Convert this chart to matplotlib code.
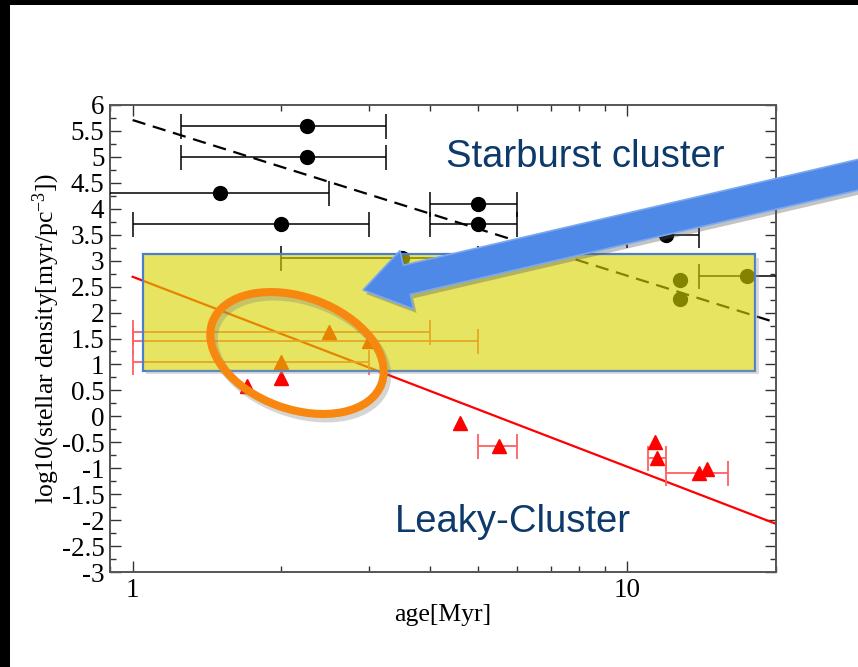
import numpy as np
import matplotlib
matplotlib.use("Agg")
from matplotlib import pyplot as plt
from matplotlib.patches import Rectangle, Polygon, Ellipse
from matplotlib.ticker import MultipleLocator, FuncFormatter, LogLocator
from matplotlib.transforms import IdentityTransform

nan = np.nan

# starburst clusters (black circles), nan = no error bar
sb_age = [2.25, 2.25, 1.5, 2.0, 5.0, 5.0, 12.0, 3.5, 12.8, 12.8, 17.5]
sb_dens = [5.6, 5.0, 4.3, 3.7, 4.1, 3.7, 3.5, 3.06, 2.62, 2.27, 2.7]
sb_lo = [1.25, 1.25, 0.5, 1.0, 4.0, 4.0, 10.0, 2.0, nan, nan, 14.0]
sb_hi = [3.25, 3.25, 2.5, 3.0, 6.0, 6.0, 14.0, 5.0, nan, nan, 21.0]

# leaky clusters (red triangles)
lk_age = [2.0, 2.5, 3.0, 1.7, 2.0, 4.6, 5.5, 11.4, 11.5, 14.0, 14.5]
lk_dens = [1.05, 1.62, 1.46, 0.58, 0.74, -0.12, -0.57, -0.5, -0.8, -1.1, -1.02]
lk_lo = [1.0, 1.0, 1.0, nan, nan, nan, 5.0, nan, 11.0, 12.0, nan]
lk_hi = [3.0, 4.0, 5.0, nan, nan, nan, 6.0, nan, 12.0, 16.0, nan]

# fits: log10(rho) = a + b*log10(age)
sb_fit = (5.71, -3.0)
lk_fit = (2.69, -3.66)

W, H = 858, 667
plt.rcParams['font.family'] = ['Liberation Serif', 'DejaVu Serif']
plt.rcParams['mathtext.fontset'] = 'custom'
plt.rcParams['mathtext.rm'] = 'Liberation Serif'
plt.rcParams['mathtext.it'] = 'Liberation Serif:italic'
fig = plt.figure(figsize=(W / 100, H / 100), dpi=100)
ax = fig.add_axes([110 / W, 95 / H, 666 / W, 467 / H])


def bars(ax, x, y, lo, hi, **kw):
    x, y, lo, hi = map(np.array, (x, y, lo, hi))
    m = np.isfinite(lo)
    ax.errorbar(x[m], y[m], xerr=[x[m] - lo[m], hi[m] - x[m]], fmt='none',
                capsize=9, zorder=3, **kw)


bars(ax, sb_age, sb_dens, sb_lo, sb_hi, ecolor='black', elinewidth=1.1, capthick=1.1)
ax.plot(sb_age, sb_dens, 'o', color='black', ms=10, zorder=4)
bars(ax, lk_age, lk_dens, lk_lo, lk_hi, ecolor='#ff6060', elinewidth=1.3, capthick=1.3)
ax.plot(lk_age, lk_dens, '^', color='red', ms=10, zorder=4)

xf = np.array([1.0, 20.0])
ax.plot(xf, sb_fit[0] + sb_fit[1] * np.log10(xf), '--', color='black', lw=1.6,
        dashes=(6, 3.5), zorder=2)
ax.plot(xf, lk_fit[0] + lk_fit[1] * np.log10(xf), '-', color='red', lw=1.6, zorder=2)

ax.set_xscale('log')
ax.set_xlim(0.9, 20)
ax.set_ylim(-3, 6)
ax.xaxis.set_major_locator(LogLocator(base=10))
ax.xaxis.set_minor_locator(LogLocator(base=10, subs=np.arange(2, 10)))
ax.xaxis.set_minor_formatter(FuncFormatter(lambda v, p: ''))
ax.xaxis.set_major_formatter(FuncFormatter(lambda v, p: '%g' % v))
ax.yaxis.set_major_locator(MultipleLocator(0.5))
ax.yaxis.set_minor_locator(MultipleLocator(0.25))
ax.yaxis.set_major_formatter(FuncFormatter(lambda v, p: '%g' % v))
ax.tick_params(which='both', direction='in', top=True, right=True, labelsize=19.5,
               color='#333333', width=1.0, pad=4)
ax.tick_params(which='major', length=8)
ax.tick_params(which='minor', length=4)
for s in ax.spines.values():
    s.set_color('#555555')
    s.set_linewidth(1.4)
ax.set_xlabel('age[Myr]', fontsize=18.5, labelpad=1)
ax.set_ylabel(r'log10(stellar density[myr/pc$^{-3}$])', fontsize=18.5, labelpad=0)

# highlighted band (semi-transparent slide shape) with its drop shadow
def px_rect(x0, y0, x1, y1, **kw):
    fig.add_artist(Rectangle((x0 / W, 1 - y1 / H), (x1 - x0) / W, (y1 - y0) / H,
                             transform=fig.transFigure, **kw))


px_rect(146, 370, 759, 374, facecolor='#999999', alpha=0.35, edgecolor='none', zorder=5)
px_rect(755, 258, 759, 370, facecolor='#999999', alpha=0.35, edgecolor='none', zorder=5)
ax.add_patch(Rectangle((1.05, 0.88), 18.15 - 1.05, 3.13 - 0.88,
                       facecolor=(215 / 255, 212 / 255, 0), alpha=0.62,
                       edgecolor='none', zorder=6, clip_on=False))
ax.add_patch(Rectangle((1.05, 0.88), 18.15 - 1.05, 3.13 - 0.88, facecolor='none',
                       edgecolor='#4a7fd0', lw=1.6, zorder=6.5, clip_on=False))

# big blue arrow (pixel coordinates, image origin top-left)
arrow_px = np.array([[363, 290], [413.6, 309], [410.2, 294.4], [892.4, 182.2],
                     [885.6, 153], [403.4, 265.2], [400, 250.6]])
shadow_px = arrow_px + [3, 4]
for pts, fc, ec, a, z in [(shadow_px, '#555555', 'none', 0.35, 9.5),
                          (arrow_px, '#4f89e8', '#7aa8f0', 1.0, 10)]:
    pts = np.column_stack([pts[:, 0] / W, 1 - pts[:, 1] / H])
    fig.add_artist(Polygon(pts, closed=True, transform=fig.transFigure,
                           facecolor=fc, edgecolor=ec, lw=1.2, alpha=a, zorder=z))

# orange ellipse with soft shadow
fig.add_artist(Ellipse((300, H - 357), 180, 112, angle=-20, transform=IdentityTransform(),
                       facecolor='none', edgecolor='#777777', lw=6.5, alpha=0.3, zorder=8.5))
fig.add_artist(Ellipse((297, H - 353), 180, 112, angle=-20, transform=IdentityTransform(),
                       facecolor='none', edgecolor='#f7870f', lw=5.8, zorder=9))

fig.text(585 / W, 1 - 157 / H, 'Starburst cluster', family='Liberation Sans', fontsize=27.5,
         color='#0d3a6b', ha='center', va='center', zorder=11)
fig.text(513 / W, 1 - 522 / H, 'Leaky-Cluster', family='Liberation Sans', fontsize=27.5,
         color='#0d3a6b', ha='center', va='center', zorder=11)

# slide border
px_rect(0, 0, W, 5, facecolor='black', edgecolor='none', zorder=20)
px_rect(0, 0, 10, H, facecolor='black', edgecolor='none', zorder=20)

fig.savefig('out.png', dpi=100)
